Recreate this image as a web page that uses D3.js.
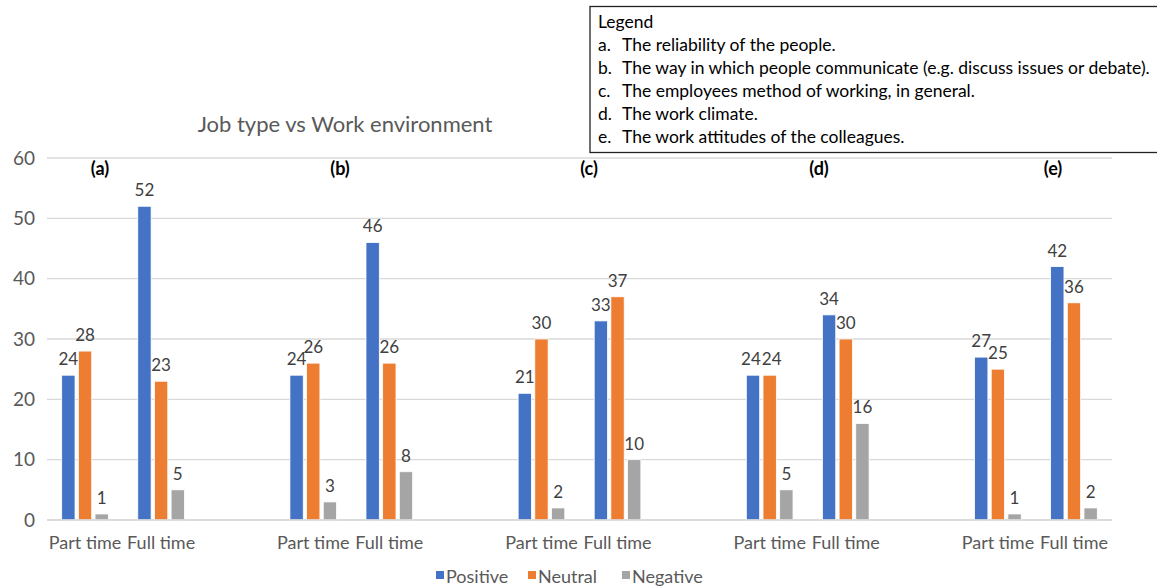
<!DOCTYPE html>
<html>
<head>
<meta charset="utf-8">
<script src="https://cdn.jsdelivr.net/npm/d3@7"></script>
<style>
  html, body { margin: 0; padding: 0; background: #fff; }
  svg text { font-family: Lato, "Open Sans", sans-serif; }
</style>
</head>
<body>
<svg id="chart" width="1157" height="587"></svg>
<script>
// Job type (part / full time) per work-environment aspect, split by sentiment
const aspects = ["(a)", "(b)", "(c)", "(d)", "(e)"];
const jobTypes = ["Part time", "Full time"];
const seriesNames = ["Positive", "Neutral", "Negative"];
const seriesColors = ["#4472C4", "#ED7D31", "#A5A5A5"];

// values per aspect: [Part time, Full time]
const positive = [[24, 52], [24, 46], [21, 33], [24, 34], [27, 42]];
const neutral  = [[28, 23], [26, 26], [30, 37], [24, 30], [25, 36]];
const negative = [[1, 5],   [3, 8],   [2, 10],  [5, 16],  [1, 2]];

const yTicks = [0, 10, 20, 30, 40, 50, 60];
const legendLines = [
  ["", "Legend"],
  ["a.", "The reliability of the people."],
  ["b.", "The way in which people communicate (e.g. discuss issues or debate)."],
  ["c.", "The employees method of working, in general."],
  ["d.", "The work climate."],
  ["e.", "The work attitudes of the colleagues."]
];
// horizontal centres of the aspect tags above each group
const aspectTagX = [100, 340, 589, 819, 1053];

const svg = d3.select("#chart");
const textColor = "#595959";
const fontFamily = "Lato, 'Open Sans', sans-serif";

// Category slots: Part time, Full time, spacer, ... (spacer between aspects)
const slots = [];
aspects.forEach((a, i) => {
  jobTypes.forEach((j, k) => slots.push({ key: a + "|" + j, aspect: i, job: k, label: j }));
  if (i < aspects.length - 1) slots.push({ key: "gap" + i, aspect: -1 });
});

const plot = { left: 47, right: 1112, top: 158, bottom: 520 };

const x = d3.scaleBand()
  .domain(slots.map(s => s.key))
  .range([plot.left, plot.right])
  .padding(0);

const y = d3.scaleLinear().domain([0, 60]).range([plot.bottom, plot.top]);

const xSub = d3.scaleBand()
  .domain(seriesNames)
  .range([-25, 25])
  .paddingInner(0.2)
  .paddingOuter(0.1);

// gridlines
svg.append("g")
  .selectAll("line")
  .data(yTicks)
  .join("line")
  .attr("x1", plot.left).attr("x2", plot.right)
  .attr("y1", d => y(d)).attr("y2", d => y(d))
  .attr("stroke", "#d9d9d9").attr("stroke-width", 1.3);

// y axis labels
const yAxis = d3.axisLeft(y).tickValues(yTicks).tickSize(0).tickPadding(0);
const yG = svg.append("g").attr("transform", "translate(35,0)").call(yAxis);
yG.select(".domain").remove();
yG.selectAll("text")
  .attr("fill", textColor)
  .style("font-size", "19px")
  .style("font-family", fontFamily);

// x axis labels
const dataSlots = slots.filter(s => s.aspect >= 0);
const xAxis = d3.axisBottom(x).tickValues(dataSlots.map(s => s.key))
  .tickFormat(k => k.split("|")[1]).tickSize(0).tickPadding(0);
const xG = svg.append("g").attr("transform", `translate(0,${plot.bottom + 16})`).call(xAxis);
xG.select(".domain").remove();
xG.selectAll("text")
  .attr("fill", textColor)
  .style("font-size", "18px")
  .style("font-family", fontFamily);

// bars
const seriesData = [positive, neutral, negative];
const bars = [];
dataSlots.forEach(s => {
  seriesNames.forEach((name, si) => {
    bars.push({ slot: s.key, series: name, si, value: seriesData[si][s.aspect][s.job] });
  });
});

const barG = svg.append("g");
barG.selectAll("rect")
  .data(bars)
  .join("rect")
  .attr("x", d => x(d.slot) + x.bandwidth() / 2 + xSub(d.series))
  .attr("width", xSub.bandwidth())
  .attr("y", d => y(d.value))
  .attr("height", d => y(0) - y(d.value))
  .attr("fill", d => seriesColors[d.si])
  .attr("stroke", "#fff")
  .attr("stroke-width", 0.8);

const labels = barG.selectAll("text")
  .data(bars)
  .join("text")
  .attr("x", d => x(d.slot) + x.bandwidth() / 2 + xSub(d.series) + xSub.bandwidth() / 2)
  .attr("y", d => y(d.value) - 10)
  .attr("text-anchor", "middle")
  .attr("fill", "#404040")
  .style("font-size", "17px")
  .text(d => d.value);

// nudge neighbouring value labels apart when they sit at the same height
const nodes = labels.nodes();
for (let i = 1; i < nodes.length; i++) {
  const a = bars[i - 1], b = bars[i];
  if (a.slot !== b.slot) continue;
  if (Math.abs(y(a.value) - y(b.value)) > 12) continue;
  const ax = +nodes[i - 1].getAttribute("x"), bx = +nodes[i].getAttribute("x");
  const wa = nodes[i - 1].getComputedTextLength(), wb = nodes[i].getComputedTextLength();
  const overlap = (ax + wa / 2 + 1) - (bx - wb / 2);
  if (overlap > 0) {
    nodes[i - 1].setAttribute("x", ax - overlap / 2);
    nodes[i].setAttribute("x", bx + overlap / 2);
  }
}

// axis baseline
svg.append("line")
  .attr("x1", plot.left).attr("x2", plot.right)
  .attr("y1", y(0)).attr("y2", y(0))
  .attr("stroke", "#d9d9d9").attr("stroke-width", 1.3);

// aspect tags
svg.append("g").selectAll("text")
  .data(aspects)
  .join("text")
  .attr("x", (d, i) => aspectTagX[i])
  .attr("y", 175)
  .attr("text-anchor", "middle")
  .attr("fill", "#000")
  .style("font-size", "18px")
  .style("font-weight", "bold")
  .text(d => d);

// title
svg.append("text")
  .attr("x", 345).attr("y", 132)
  .attr("text-anchor", "middle")
  .attr("fill", textColor)
  .style("font-size", "22px")
  .text("Job type vs Work environment");

// legend box with aspect descriptions
const box = svg.append("g");
box.append("rect")
  .attr("x", 590).attr("y", 6.5)
  .attr("width", 580).attr("height", 146)
  .attr("fill", "#fff")
  .attr("stroke", "#222").attr("stroke-width", 1.3);
legendLines.forEach((ln, i) => {
  const yy = 28 + i * 23;
  if (ln[0]) {
    box.append("text").attr("x", 598).attr("y", yy).attr("fill", "#000")
      .style("font-size", "17.5px").text(ln[0]);
    box.append("text").attr("x", 622).attr("y", yy).attr("fill", "#000")
      .style("font-size", "17.5px").text(ln[1]);
  } else {
    box.append("text").attr("x", 598).attr("y", yy).attr("fill", "#000")
      .style("font-size", "17.5px").text(ln[1]);
  }
});

// series legend
const legendX = [436, 528, 622];
const sl = svg.append("g");
seriesNames.forEach((name, i) => {
  sl.append("rect").attr("x", legendX[i]).attr("y", 571)
    .attr("width", 8).attr("height", 8).attr("fill", seriesColors[i]);
  sl.append("text").attr("x", legendX[i] + 10).attr("y", 583)
    .attr("fill", textColor).style("font-size", "18px").text(name);
});
</script>
</body>
</html>
